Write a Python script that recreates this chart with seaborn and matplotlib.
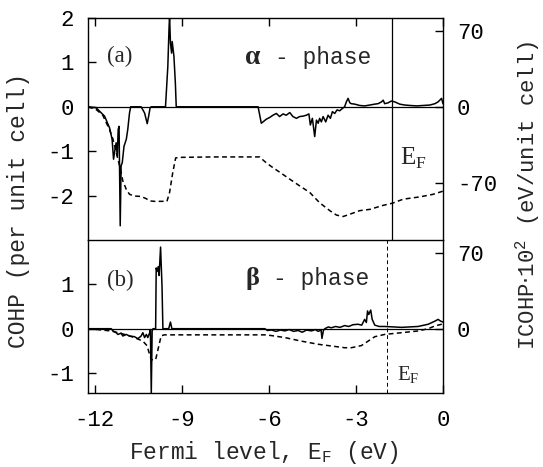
import matplotlib
matplotlib.use("Agg")
import matplotlib.pyplot as plt
import seaborn as sns

# ---- alpha phase: COHP (per unit cell) vs energy (eV)
alpha_cohp_e = [-12.23, -11.95, -11.83, -11.66, -11.49, -11.40, -11.35, -11.30, -11.26, -11.22,
                -11.19, -11.16, -11.12, -11.09, -11.05, -10.99, -10.91, -10.86, -10.80, -10.76,
                -10.40, -10.28, -10.19, -10.14, -10.09, -10.05, -9.56, -9.48, -9.44, -9.42,
                -9.39, -9.35, -9.33, -9.27, -9.22, -9.19, -6.37, -6.26, -6.20, -6.09,
                -5.97, -5.86, -5.74, -5.63, -5.51, -5.40, -5.28, -5.17, -5.05, -4.94,
                -4.82, -4.71, -4.62, -4.57, -4.50, -4.42, -4.36, -4.30, -4.25, -4.19,
                -4.13, -4.04, -3.96, -3.88, -3.81, -3.73, -3.65, -3.56, -3.47, -3.39,
                -3.33, -3.27, -3.21, -3.16, -3.04, -2.87, -2.70, -2.52, -2.35, -2.24,
                -2.12, -2.06, -2.01, -1.89, -1.78, -1.66, -1.49, -1.32, -1.14, -0.91,
                -0.68, -0.45, -0.28, -0.17, -0.05, 0.0]
alpha_cohp = [0.0, -0.02, -0.10, -0.21, -0.47, -0.73, -1.18, -0.96, -0.81, -1.11,
              -0.51, -0.44, -2.68, -1.33, -1.26, -0.89, -0.73, -0.51, -0.14, 0.0,
              0.0, -0.14, -0.38, -0.21, -0.02, 0.0, 0.0, 0.91, 1.74, 2.05,
              1.44, 1.21, 1.47, 1.14, 0.53, 0.0, 0.0, -0.37, -0.34, -0.28,
              -0.24, -0.19, -0.15, -0.22, -0.16, -0.19, -0.13, -0.22, -0.26, -0.22,
              -0.21, -0.19, -0.16, -0.41, -0.26, -0.67, -0.30, -0.37, -0.26, -0.34,
              -0.22, -0.34, -0.19, -0.26, -0.11, -0.15, -0.07, -0.09, -0.04, 0.0,
              0.11, 0.19, 0.09, 0.07, 0.06, 0.03, 0.02, 0.04, 0.06, 0.07,
              0.11, 0.15, 0.07, 0.09, 0.13, 0.11, 0.06, 0.04, 0.03, 0.02,
              0.03, 0.04, 0.07, 0.11, 0.19, 0.07]

# ---- alpha phase: ICOHP x 10^2 (eV/unit cell)
alpha_icohp_e = [-12.23, -11.95, -11.72, -11.60, -11.49, -11.37, -11.28, -11.20, -11.14, -11.09,
                 -11.03, -10.91, -10.80, -10.63, -10.40, -10.22, -10.11, -9.94, -9.51, -9.42,
                 -9.31, -9.21, -9.07, -7.93, -6.32, -6.09, -5.86, -5.63, -5.28, -4.94,
                 -4.59, -4.25, -3.90, -3.67, -3.44, -3.21, -2.87, -2.52, -2.06, -1.74,
                 -1.37, -0.80, -0.34, 0.0]
alpha_icohp = [0.0, -2.5, -7.8, -14.8, -20.9, -29.9, -39.4, -48.4, -54.5, -60.7,
               -68.5, -76.3, -80.8, -82.4, -82.8, -84.9, -86.9, -87.3, -87.3, -79.1,
               -60.7, -47.2, -46.7, -46.3, -46.3, -51.7, -56.2, -60.3, -66.8, -73.0,
               -79.1, -88.6, -95.9, -100.0, -101.3, -99.2, -95.9, -94.7, -91.0, -89.0,
               -85.3, -83.2, -80.8, -77.9]

# ---- beta phase: COHP (per unit cell)
beta_cohp_e = [-12.23, -11.43, -11.37, -11.26, -11.20, -11.09, -11.03, -10.91, -10.80, -10.63,
               -10.51, -10.40, -10.34, -10.28, -10.22, -10.17, -10.11, -10.08, -10.05, -10.02,
               -9.99, -9.90, -9.88, -9.85, -9.81, -9.78, -9.73, -9.68, -9.65, -9.45,
               -9.39, -9.34, -6.14, -6.05, -5.91, -5.75, -5.60, -5.45, -5.30, -5.15,
               -4.99, -4.85, -4.70, -4.53, -4.40, -4.30, -4.20, -4.17, -4.12, -4.07,
               -3.95, -3.85, -3.70, -3.55, -3.39, -3.25, -3.10, -2.93, -2.80, -2.70,
               -2.64, -2.60, -2.56, -2.49, -2.44, -2.35, -2.20, -2.01, -1.70, -1.43,
               -1.15, -0.86, -0.51, -0.28, -0.17, -0.08, 0.0]
beta_cohp = [0.0, 0.0, -0.05, -0.09, -0.13, -0.10, -0.165, -0.13, -0.165, -0.18,
             -0.225, -0.165, -0.09, -0.20, -0.13, -0.20, -0.10, -0.02, -1.47, -0.05,
             0.0, 0.0, 1.37, 1.29, 1.40, 1.20, 1.84, 0.96, 0.0, 0.0,
             0.15, 0.0, 0.0, -0.04, -0.03, -0.06, -0.03, -0.05, -0.02, -0.06,
             -0.04, -0.08, -0.03, -0.05, -0.02, -0.06, -0.03, -0.22, -0.04, 0.0,
             0.04, 0.02, 0.05, 0.03, 0.07, 0.05, 0.09, 0.10, 0.08, 0.21,
             0.14, 0.40, 0.32, 0.42, 0.21, 0.08, 0.05, 0.05, 0.04, 0.03,
             0.04, 0.05, 0.10, 0.17, 0.21, 0.17, 0.15]

# ---- beta phase: ICOHP x 10^2 (eV/unit cell)
beta_icohp_e = [-12.23, -11.43, -10.97, -10.63, -10.34, -10.20, -10.05, -9.90, -9.71, -9.60,
                -6.08, -5.45, -4.88, -4.30, -3.73, -3.39, -3.16, -2.81, -2.58, -2.35,
                -2.01, -1.43, -0.86, -0.51, -0.28, -0.05, 0.0]
beta_icohp = [0.0, -2.1, -5.3, -8.2, -11.5, -15.6, -28.7, -28.7, -6.6, -5.7,
              -5.7, -8.2, -11.5, -14.4, -16.4, -17.6, -17.6, -15.6, -11.5, -7.4,
              -5.3, -3.7, -2.1, 0.0, 2.5, 4.1, 4.9]

# Fermi levels (eV)
alpha_fermi = -1.74
beta_fermi = -1.92

x_ticks = [-12, -9, -6, -3, 0]
alpha_cohp_ticks = [-2, -1, 0, 1, 2]
beta_cohp_ticks = [-1, 0, 1]
alpha_icohp_ticks = [-70, 0, 70]
beta_icohp_ticks = [0, 70]

sns.set_style("white")
plt.rcParams["font.family"] = ["Liberation Mono", "DejaVu Sans"]
plt.rcParams["axes.unicode_minus"] = False
plt.rcParams["axes.edgecolor"] = "black"
plt.rcParams["axes.linewidth"] = 1.0
plt.rcParams["xtick.color"] = "black"
plt.rcParams["ytick.color"] = "black"

W, H = 543, 467
fig = plt.figure(figsize=(W / 100, H / 100), dpi=100)


def rect(l, t, r, b):
    return [l / W, 1 - b / H, (r - l) / W, (b - t) / H]


def px(x, y):
    return x / W, 1 - y / H


ax_a = fig.add_axes(rect(88, 18, 443, 240))
ax_b = fig.add_axes(rect(88, 240, 443, 393))

# scale between COHP axis and ICOHP*100 axis
K = 41.0
XLIM = (-12.23, 0.0)
FS = 16
line_kw = dict(color="black", lw=1.1, estimator=None, sort=False)

panels = [
    (ax_a, alpha_cohp_e, alpha_cohp, alpha_icohp_e, alpha_icohp, (-3.0, 2.0),
     alpha_cohp_ticks, alpha_icohp_ticks, alpha_fermi, "-"),
    (ax_b, beta_cohp_e, beta_cohp, beta_icohp_e, beta_icohp, (-1.45, 2.0),
     beta_cohp_ticks, beta_icohp_ticks, beta_fermi, (0, (4, 3))),
]

for ax, ce, cv, ie, iv, ylim, lticks, rticks, ef, ef_ls in panels:
    ax.axhline(0, color="black", lw=0.9, zorder=1)
    ax.axvline(ef, color="black", lw=0.9 if ef_ls == "-" else 0.7, linestyle=ef_ls, zorder=1)
    sns.lineplot(x=ce, y=cv, ax=ax, **line_kw)
    ax.set_xlim(*XLIM)
    ax.set_ylim(*ylim)
    ax.set_xticks(x_ticks)
    ax.set_yticks(lticks)
    ax.set_xlabel("")
    ax.set_ylabel("")
    ax.tick_params(axis="y", direction="in", left=True, right=False, length=6, width=1.0,
                   labelsize=FS, pad=10)

    tw = ax.twinx()
    sns.lineplot(x=ie, y=iv, ax=tw, linestyle=(0, (3.2, 2.2)), **line_kw)
    tw.set_ylim(ylim[0] * K, ylim[1] * K)
    tw.set_xlim(*XLIM)
    tw.set_yticks(rticks)
    tw.set_ylabel("")
    tw.tick_params(axis="y", direction="in", right=True, left=False, length=6, width=1.0,
                   labelsize=FS, pad=10)
    for s in tw.spines.values():
        s.set_visible(False)

ax_a.tick_params(axis="x", direction="in", top=True, bottom=False, labelbottom=False,
                 length=6, width=1.0)
ax_b.tick_params(axis="x", direction="in", top=False, bottom=True, labelbottom=True,
                 length=6, width=1.0, labelsize=FS, pad=12)
ax_a.spines["bottom"].set_visible(False)

# panel annotations
serif = ["Liberation Serif", "DejaVu Serif"]
fig.text(*px(120, 56), "(a)", family=serif, fontsize=16.5, ha="center", va="center")
fig.text(*px(120, 280), "(b)", family=serif, fontsize=16.5, ha="center", va="center")
fig.text(*px(253, 64), "\u03b1", family=serif, fontsize=20, fontweight="bold",
         ha="center", va="baseline")
fig.text(*px(252, 285), "\u03b2", family=serif, fontsize=19, fontweight="bold",
         ha="center", va="baseline")
fig.text(*px(275, 64), "- phase", fontsize=FS + 0.5, ha="left", va="baseline")
fig.text(*px(273, 285), "- phase", fontsize=FS + 0.5, ha="left", va="baseline")
fig.text(*px(400, 165), r"E$_\mathregular{F}$", family=serif, fontsize=18,
         ha="left", va="baseline")
fig.text(*px(397, 380), r"E$_\mathregular{F}$", family=serif, fontsize=15,
         ha="left", va="baseline")

# axis titles
fig.text(*px(264, 459), r"Fermi level, E$_\mathregular{F}$ (eV)", fontsize=FS + 0.5,
         ha="center", va="baseline")
fig.text(*px(19, 210), "COHP (per unit cell)", fontsize=FS + 0.5, rotation=90,
         ha="center", va="center")
fig.text(*px(528, 195), r"ICOHP$\cdot$10$^\mathregular{2}$ (eV/unit cell)", fontsize=FS,
         rotation=90, ha="center", va="center")

fig.savefig("out.png", dpi=100)
